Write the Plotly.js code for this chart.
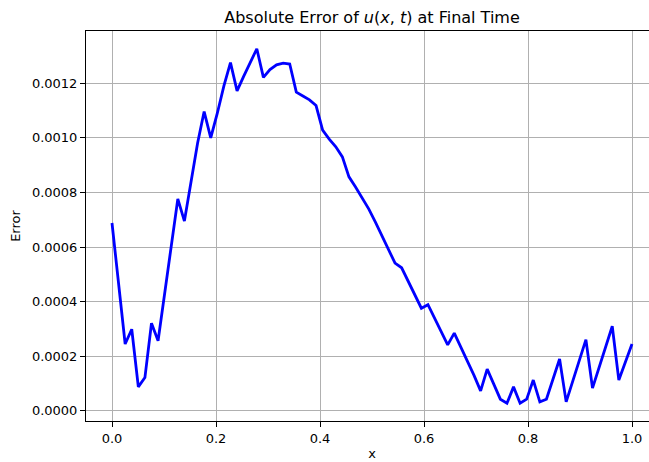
<!DOCTYPE html>
<html>
<head>
<meta charset="utf-8">
<script src="https://cdn.plot.ly/plotly-3.0.1.min.js"></script>
<style>
html, body { margin: 0; padding: 0; overflow: hidden; background: #fff; }
#chart { width: 680px; height: 462px; }
</style>
</head>
<body>
<div id="chart"></div>
<script>
// 80 grid points on [0, 1]
const nPoints = 80;
const xValues = Array.from({length: nPoints}, (_, k) => k / (nPoints - 1));

// Absolute error
const errorValues = [
  0.000688, 0.000466, 0.000245, 0.000299, 0.000088, 0.000122, 0.000321, 0.000257,
  0.000430, 0.000610, 0.000776, 0.000695, 0.000840, 0.000980, 0.001096, 0.001000,
  0.001090, 0.001190, 0.001275, 0.001172, 0.001225, 0.001278, 0.001326, 0.001221,
  0.001250, 0.001267, 0.001273, 0.001270, 0.001167, 0.001153, 0.001139, 0.001118,
  0.001028, 0.000995, 0.000967, 0.000930, 0.000857, 0.000820, 0.000781, 0.000740,
  0.000692, 0.000642, 0.000592, 0.000541, 0.000524, 0.000475, 0.000426, 0.000376,
  0.000389, 0.000340, 0.000290, 0.000242, 0.000285, 0.000235, 0.000186, 0.000130,
  0.0000735, 0.000153, 0.000098, 0.000043, 0.000028, 0.000088, 0.000028, 0.000043,
  0.000113, 0.000033, 0.000043, 0.000115, 0.000190, 0.000033, 0.000109, 0.000185,
  0.000261, 0.0000833, 0.000159, 0.000234, 0.000310, 0.000113, 0.000179, 0.000245
];

const xTickVals = [0, 0.2, 0.4, 0.6, 0.8, 1.0];
const yTickVals = [0, 0.0002, 0.0004, 0.0006, 0.0008, 0.0010, 0.0012];

const font = "DejaVu Sans, sans-serif";

const trace = {
  x: xValues,
  y: errorValues,
  type: 'scatter',
  mode: 'lines',
  line: {color: '#0000ff', width: 2.8},
  hoverinfo: 'skip'
};

const axisCommon = {
  showline: true,
  linecolor: '#000',
  linewidth: 1,
  mirror: true,
  ticks: 'outside',
  ticklen: 5,
  tickwidth: 1,
  tickcolor: '#000',
  showgrid: true,
  gridcolor: '#b0b0b0',
  gridwidth: 1,
  zeroline: false,
  tickfont: {family: font, size: 13, color: '#000'}
};

const layout = {
  width: 680,
  height: 462,
  margin: {l: 86, r: 22, t: 31, b: 41},
  paper_bgcolor: '#fff',
  plot_bgcolor: '#fff',
  showlegend: false,
  font: {family: font, color: '#000'},
  title: {
    text: 'Absolute Error of <i>u</i>(<i>x</i>, <i>t</i>) at Final Time',
    font: {family: font, size: 16, color: '#000'},
    x: 0.5, xref: 'paper', xanchor: 'center',
    y: 1 - 17 / 462, yref: 'container', yanchor: 'middle'
  },
  xaxis: Object.assign({}, axisCommon, {
    range: [-0.05, 1.05],
    tickvals: xTickVals,
    tickformat: '.1f',
    title: {text: 'x', font: {family: font, size: 13, color: '#000'}, standoff: 4}
  }),
  yaxis: Object.assign({}, axisCommon, {
    range: [-0.0000369, 0.001391],
    tickvals: yTickVals,
    tickformat: '.4f',
    title: {text: 'Error', font: {family: font, size: 13, color: '#000'}, standoff: 8}
  })
};

Plotly.newPlot('chart', [trace], layout, {staticPlot: true, displayModeBar: false});
</script>
</body>
</html>
